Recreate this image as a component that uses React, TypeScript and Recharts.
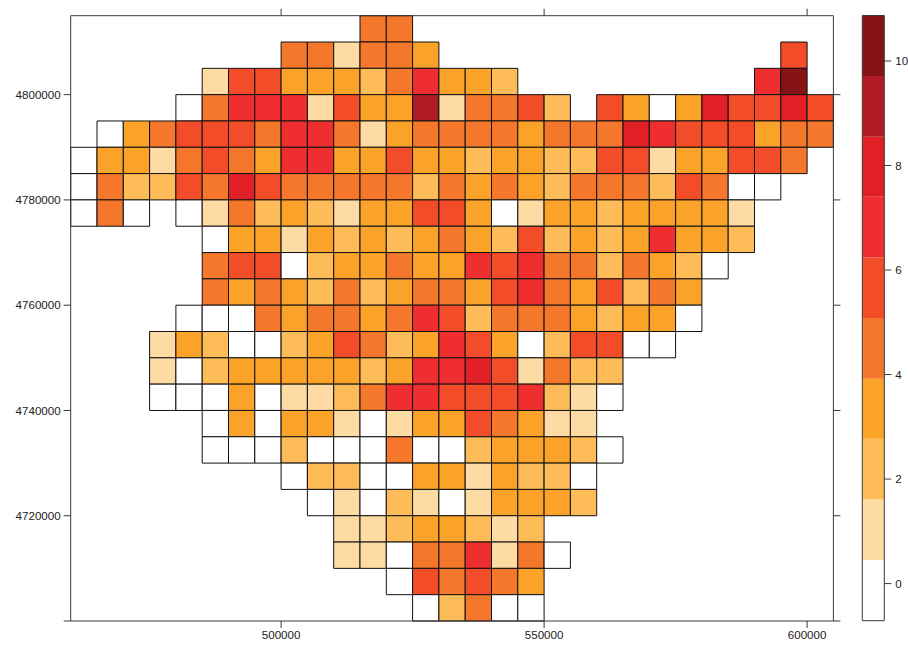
import { ComposedChart, XAxis, YAxis, ReferenceArea } from 'recharts'

const fontFamily = '"Liberation Sans", Arial, sans-serif'
const axisColor = '#3a3a3a'

const levelColors = ['#ffffff', '#fedba3', '#febc59', '#fba329', '#f4772c', '#f24c29', '#ef2f2f', '#e01f26', '#b01c23', '#861416']
const levelBreaks = [-0.71, 0.45, 1.61, 2.77, 3.92, 5.08, 6.24, 7.4, 8.55, 9.71, 10.87]

const cellSize = 5000
const xMin = 460000
const xMax = 605000
const yMin = 4700000
const yMax = 4815000

const xTicks = [500000, 550000, 600000]
const yTicks = [4700000, 4720000, 4740000, 4760000, 4780000, 4800000]
const legendTicks = [0, 2, 4, 6, 8, 10]

// first column of each grid row, counted from the left edge
const rowStarts = [11, 8, 5, 4, 1, 0, 0, 0, 5, 5, 5, 4, 3, 3, 3, 5, 5, 8, 9, 10, 10, 12, 13]
// colour bin of each cell, top row first, '.' = no cell
const rowLevels = [
    '44',
    '441443.............5',
    '155333246332.........69',
    '046661533814452.530375575',
    '0345554664134444344476555344',
    '0331454366335332332255133554',
    '042254754444424343244425400',
    '040.0142321335530133233331',
    '033132323432523236332',
    '45502334336564424320',
    '4343242344356435243',
    '00043443465244432330',
    '13200235423653025500',
    '102333332366751422',
    '000301124665556210',
    '030331013354311',
    '0002000400233320',
    '022003313220',
    '01021013332',
    '11233212',
    '110446140',
    '054543',
    '02400',
]

const cells = rowLevels.flatMap((levels, row) =>
    levels.split('').flatMap((level, i) => {
        if (level === '.') return []
        const x1 = xMin + (rowStarts[row] + i) * cellSize
        const y2 = yMax - row * cellSize
        return [{ x1, x2: x1 + cellSize, y1: y2 - cellSize, y2, level: Number(level) }]
    })
)

const noLabel = () => ''
const tickStyle = { fill: '#222222', fontSize: 11.6, fontFamily }

export default function App() {
    return (
        <div style={{ position: 'absolute', left: 0, top: 0, width: 908, height: 645, background: '#fff' }}>
            <div style={{ position: 'absolute', left: 0, top: 0 }}>
                <ComposedChart width={842} height={645} margin={{ top: 7.7, right: 0.6, left: 10.7, bottom: 0 }}>
                    <XAxis type="number" dataKey="x" domain={[xMin, xMax]} ticks={xTicks} interval={0} height={24}
                        allowDataOverflow stroke={axisColor} tickSize={7} tickMargin={3} tick={tickStyle} />
                    <XAxis xAxisId="top" orientation="top" type="number" dataKey="x" domain={[xMin, xMax]} ticks={xTicks} interval={0} height={8}
                        allowDataOverflow stroke={axisColor} tickSize={7} tickFormatter={noLabel} />
                    <YAxis type="number" dataKey="y" domain={[yMin, yMax]} ticks={yTicks} interval={0} width={60}
                        allowDataOverflow stroke={axisColor} tickSize={7} tickMargin={3} tick={tickStyle}
                        tickFormatter={(v: number) => (v === yMin ? '' : String(v))} />
                    <YAxis yAxisId="right" orientation="right" type="number" dataKey="y" domain={[yMin, yMax]} ticks={yTicks} interval={0} width={8}
                        allowDataOverflow stroke={axisColor} tickSize={7} tickFormatter={noLabel} />
                    {cells.map((c) => (
                        <ReferenceArea key={`${c.x1}-${c.y1}`} x1={c.x1} x2={c.x2} y1={c.y1} y2={c.y2}
                            fill={levelColors[c.level]} fillOpacity={1} stroke="#111111" strokeWidth={1} />
                    ))}
                </ComposedChart>
            </div>
            <div style={{ position: 'absolute', left: 840, top: 0 }}>
                <ComposedChart width={68} height={645} margin={{ top: 15.5, right: 0, left: 22.3, bottom: 24.3 }}>
                    <XAxis type="number" dataKey="x" domain={[0, 1]} allowDataOverflow hide />
                    <YAxis orientation="right" type="number" dataKey="y" domain={[levelBreaks[0], levelBreaks[10]]} ticks={legendTicks} interval={0} width={23.7}
                        allowDataOverflow axisLine={false} stroke={axisColor} tickSize={7} tickMargin={4} tick={tickStyle} />
                    {levelColors.map((color, i) => (
                        <ReferenceArea key={color} x1={0} x2={1} y1={levelBreaks[i]} y2={levelBreaks[i + 1]}
                            fill={color} fillOpacity={1} stroke="none" />
                    ))}
                    <ReferenceArea x1={0} x2={1} y1={levelBreaks[0]} y2={levelBreaks[10]} fill="none" stroke={axisColor} strokeWidth={1} />
                </ComposedChart>
            </div>
        </div>
    )
}
